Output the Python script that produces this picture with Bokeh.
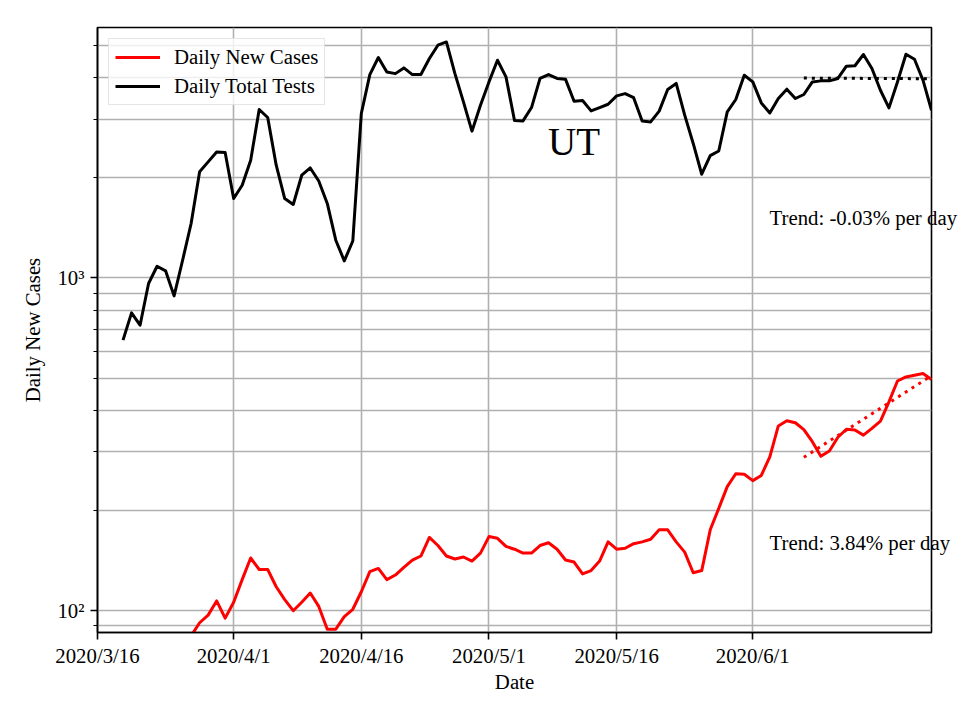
import pandas as pd
from bokeh.plotting import figure
from bokeh.models import (Range1d, FixedTicker, CustomJSTickFormatter, Legend,
                          LegendItem, Label, ColumnDataSource, LogAxis)
from bokeh.embed import file_html
from bokeh.resources import INLINE

# ---------------- data ----------------
tests_start = "2020-03-19"
tests = [650, 785, 721, 962, 1084, 1050, 883, 1130, 1457, 2083,
         2232, 2391, 2380, 1732, 1899, 2258, 3206, 3034, 2181, 1732,
         1662, 2035, 2140, 1955, 1674, 1298, 1125, 1291, 3119, 4083,
         4596, 4159, 4110, 4276, 4083, 4083, 4564, 5003, 5117, 4110,
         3380, 2760, 3303, 3881, 4510, 4018, 2970, 2963, 3250, 3975,
         4083, 3975, 3950, 3396, 3413, 3176, 3250, 3325, 3523, 3580,
         3480, 2963, 2943, 3170, 3683, 3840, 3083, 2535, 2049, 2330,
         2407, 3153, 3436, 4065, 3881, 3356, 3130, 3460, 3690, 3460,
         3557, 3881, 3909, 3909, 3975, 4326, 4340, 4691, 4258, 3664,
         3243, 3881, 4700, 4539, 3927, 3190]

cases_start = "2020-03-27"
cases = [84, 92, 97, 107, 95, 106, 124, 144, 133, 133,
         118, 108, 100, 106, 113, 103, 88, 88, 96, 101,
         114, 131, 134, 124, 128, 135, 142, 146, 166, 157,
         146, 143, 145, 141, 149, 167, 165, 156, 153, 149,
         149, 157, 160, 153, 142, 140, 129, 132, 141, 161,
         153, 154, 159, 161, 164, 175, 175, 161, 150, 130,
         132, 175, 203, 236, 258, 257, 246, 255, 290, 359,
         372, 367, 350, 322, 291, 302, 332, 351, 349, 337,
         353, 371, 424, 490, 504, 510, 516, 495]

trend_start = "2020-06-07"
trend_days = 15
tests_trend_base = 3985
tests_trend_rate = -0.0003
cases_trend_base = 289
cases_trend_rate = 0.0384

title_text = "UT"
title_date = "2020-05-11"
title_value = 2563
trend_texts = ["Trend: -0.03% per day", "Trend: 3.84% per day"]
trend_text_values = [1519, 160.6]   # vertical centre of each trend note

x_start = "2020-03-16"
x_end = "2020-06-22"
y_min = 86
y_max = 5655

x_tick_dates = ["2020-03-16", "2020-04-01", "2020-04-16",
                "2020-05-01", "2020-05-16", "2020-06-01"]
x_tick_labels = ["2020/3/16", "2020/4/1", "2020/4/16",
                 "2020/5/1", "2020/5/16", "2020/6/1"]
y_major_ticks = [100, 1000]
y_major_labels = ["10\u00b2", "10\u00b3"]
y_minor_ticks = [90, 200, 300, 400, 500, 600, 700, 800, 900,
                 2000, 3000, 4000, 5000]

# ---------------- build ----------------
FONT = "Liberation Serif"
FS = "20.8px"
GRID = "#b0b0b0"


def ms(d):
    return pd.Timestamp(d).value // 10**6


tests_src = ColumnDataSource(dict(
    date=pd.date_range(tests_start, periods=len(tests), freq="D"), v=tests))
cases_src = ColumnDataSource(dict(
    date=pd.date_range(cases_start, periods=len(cases), freq="D"), v=cases))
tdates = pd.date_range(trend_start, periods=trend_days + 1, freq="D")
tests_tr_src = ColumnDataSource(dict(
    date=tdates,
    v=[tests_trend_base * (1 + tests_trend_rate) ** k for k in range(trend_days + 1)]))
cases_tr_src = ColumnDataSource(dict(
    date=tdates,
    v=[cases_trend_base * (1 + cases_trend_rate) ** k for k in range(trend_days + 1)]))

p = figure(width=960, height=720, x_axis_type="datetime", y_axis_type="log",
           x_range=Range1d(pd.Timestamp(x_start), pd.Timestamp(x_end)),
           y_range=Range1d(y_min, y_max),
           output_backend="svg", toolbar_location=None,
           min_border_left=97, min_border_right=28,
           min_border_top=27, min_border_bottom=88)

p.background_fill_color = "white"
p.border_fill_color = "white"
p.outline_line_color = "black"
p.outline_line_width = 1.6

JS = "const i = tv.indexOf(tick); return i >= 0 ? tl[i] : '';"

# axes
xt = [ms(d) for d in x_tick_dates]
p.xaxis.ticker = FixedTicker(ticks=xt)
p.xaxis.formatter = CustomJSTickFormatter(args=dict(tv=xt, tl=x_tick_labels), code=JS)
p.yaxis.ticker = FixedTicker(ticks=y_major_ticks, minor_ticks=y_minor_ticks)
p.yaxis.formatter = CustomJSTickFormatter(
    args=dict(tv=y_major_ticks, tl=y_major_labels), code=JS)

for ax in (p.xaxis[0], p.yaxis[0]):
    ax.axis_line_color = "black"
    ax.axis_line_width = 1.6
    ax.major_tick_line_color = "black"
    ax.major_tick_line_width = 1.6
    ax.major_tick_out = 7
    ax.major_tick_in = 0
    ax.major_label_text_font = FONT
    ax.major_label_text_font_size = FS
    ax.major_label_text_color = "black"
    ax.axis_label_text_font = FONT
    ax.axis_label_text_font_size = FS
    ax.axis_label_text_font_style = "normal"
    ax.axis_label_text_color = "black"

p.xaxis.minor_tick_line_color = None
p.xaxis.major_label_standoff = 4
p.xaxis.axis_label_standoff = 0
p.yaxis.minor_tick_line_color = "black"
p.yaxis.minor_tick_line_width = 1.2
p.yaxis.minor_tick_out = 4
p.yaxis.minor_tick_in = 0
p.yaxis.major_label_standoff = 6
p.yaxis.axis_label_standoff = 10

p.xaxis.axis_label = "Date"
p.yaxis.axis_label = "Daily New Cases"

# trend notes: an invisible right axis whose labels reach back into the frame,
# so that the text runs past the frame edge like in the reference
note_axis = LogAxis(
    ticker=FixedTicker(ticks=trend_text_values, minor_ticks=[]),
    formatter=CustomJSTickFormatter(args=dict(tv=trend_text_values, tl=trend_texts), code=JS),
    axis_line_color=None, major_tick_line_color=None, minor_tick_line_color=None,
    major_tick_out=0, major_tick_in=0, minor_tick_out=0, minor_tick_in=0,
    major_label_standoff=-162,
    major_label_text_font=FONT, major_label_text_font_size=FS,
    major_label_text_color="black")
p.add_layout(note_axis, "right")

# grid
p.xgrid.grid_line_color = GRID
p.xgrid.grid_line_width = 1.6
p.ygrid.grid_line_color = GRID
p.ygrid.grid_line_width = 1.6
p.ygrid.minor_grid_line_color = GRID
p.ygrid.minor_grid_line_width = 1.6

# lines
r_cases = p.line("date", "v", source=cases_src, line_color="#ff0000",
                 line_width=3, line_join="round")
r_tests = p.line("date", "v", source=tests_src, line_color="black",
                 line_width=3, line_join="round")
p.line("date", "v", source=cases_tr_src, line_color="#ff0000",
       line_width=3, line_dash="3 5")
p.line("date", "v", source=tests_tr_src, line_color="black",
       line_width=3, line_dash="3 5")

# title note
p.add_layout(Label(x=pd.Timestamp(title_date), y=title_value, text=title_text,
                   text_font=FONT, text_font_size="39px", text_align="center",
                   text_baseline="alphabetic", text_color="black"))

# legend
legend = Legend(items=[LegendItem(label="Daily New Cases", renderers=[r_cases]),
                       LegendItem(label="Daily Total Tests", renderers=[r_tests])],
                location="top_left")
legend.margin = 11
legend.padding = 6
legend.spacing = 5
legend.label_standoff = 14
legend.glyph_width = 45
legend.glyph_height = 24
legend.label_height = 24
legend.label_text_font = FONT
legend.label_text_font_size = FS
legend.label_text_color = "black"
legend.border_line_color = "#cccccc"
legend.border_line_width = 1.5
legend.background_fill_alpha = 0.8
p.add_layout(legend)

open("out.html", "w").write(file_html(p, INLINE))
